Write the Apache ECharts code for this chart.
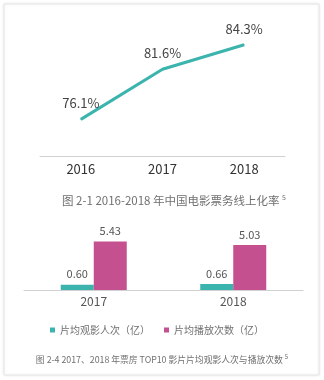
<!DOCTYPE html>
<html><head><meta charset="utf-8">
<script src="https://cdn.jsdelivr.net/npm/echarts@6/dist/echarts.min.js"></script>
<style>html,body{margin:0;padding:0;background:#fff}#c{width:324px;height:380px}</style>
</head><body><div id="c"></div>
<script>
var lineYears = ['2016', '2017', '2018'];
var onlineRate = [76.1, 81.6, 84.3];
var barYears = ['2017', '2018'];
var avgAudience = [0.60, 0.66];
var avgPlays = [5.43, 5.03];
var legendNames = ['片均观影人次（亿）', '片均播放次数（亿）'];
var title1 = '图 2-1 2016-2018 年中国电影票务线上化率';
var title2 = '图 2-4 2017、2018 年票房 TOP10 影片片均观影人次与播放次数';

var FONT = '"Noto Sans CJK SC", "Noto Sans", sans-serif';
var TEAL = '#3bb4ad', MAG = '#c5508f';
var chart = echarts.init(document.getElementById('c'), null, {renderer: 'canvas'});
chart.setOption({
  backgroundColor: '#fff',
  animation: false,
  textStyle: {fontFamily: FONT},
  graphic: [{
    type: 'rect', shape: {x: 4, y: 4, width: 315, height: 371},
    style: {fill: '#fff', stroke: '#e6e6e6', lineWidth: 1, shadowBlur: 3, shadowColor: 'rgba(0,0,0,0.08)'},
    z: -10
  }],
  title: [
    {text: title1 + ' {s|5}', left: 57, top: 189,
     textStyle: {fontSize: 11.5, fontWeight: 'normal', color: '#707070', fontFamily: FONT,
       rich: {s: {fontSize: 7, verticalAlign: 'top', color: '#707070', padding: [0, 0, 6, 0]}}}},
    {text: title2 + ' {s|5}', left: 'center', top: 349,
     textStyle: {fontSize: 8.8, fontWeight: 'normal', color: '#707070', fontFamily: FONT,
       rich: {s: {fontSize: 6, verticalAlign: 'top', color: '#707070', padding: [0, 0, 5, 0]}}}}
  ],
  legend: {
    data: legendNames, left: 45, top: 320, itemWidth: 5, itemHeight: 5, itemGap: 14,
    icon: 'rect', textStyle: {fontSize: 10, color: '#707070', fontFamily: FONT}
  },
  grid: [
    {left: 40, right: 39, top: 11, bottom: 223.3},
    {left: 24, right: 21, top: 236.3, bottom: 90}
  ],
  xAxis: [
    {type: 'category', gridIndex: 0, data: lineYears, boundaryGap: true,
     axisLine: {lineStyle: {color: '#d0d0d0', width: 1}}, axisTick: {show: false},
     axisLabel: {fontSize: 13, color: '#333', margin: 6, fontFamily: FONT}},
    {type: 'category', gridIndex: 1, data: barYears,
     axisLine: {lineStyle: {color: '#d0d0d0', width: 1}}, axisTick: {show: false},
     axisLabel: {fontSize: 12, color: '#555', margin: 5, fontFamily: FONT}}
  ],
  yAxis: [
    {type: 'value', gridIndex: 0, min: 72, max: 88, show: false, splitLine: {show: false}},
    {type: 'value', gridIndex: 1, min: 0, max: 6, show: false, splitLine: {show: false}}
  ],
  series: [
    {type: 'line', xAxisIndex: 0, yAxisIndex: 0, data: onlineRate, symbol: 'circle', symbolSize: 1,
     showSymbol: true,
     lineStyle: {color: TEAL, width: 3}, itemStyle: {color: TEAL},
     label: {show: true, position: 'top', distance: 9, fontSize: 13, color: '#444', fontFamily: FONT,
       formatter: function (p) { return p.value.toFixed(1) + '%'; }}},
    {type: 'bar', name: legendNames[0], xAxisIndex: 1, yAxisIndex: 1, data: avgAudience,
     barWidth: 33, barGap: '0%', itemStyle: {color: TEAL},
     label: {show: true, position: 'top', distance: 5, fontSize: 11, color: '#555', fontFamily: FONT,
       formatter: function (p) { return p.value.toFixed(2); }}},
    {type: 'bar', name: legendNames[1], xAxisIndex: 1, yAxisIndex: 1, data: avgPlays,
     barWidth: 33, barGap: '0%', itemStyle: {color: MAG},
     label: {show: true, position: 'top', distance: 5, fontSize: 11, color: '#555', fontFamily: FONT,
       formatter: function (p) { return p.value.toFixed(2); }}}
  ]
});
</script></body></html>
